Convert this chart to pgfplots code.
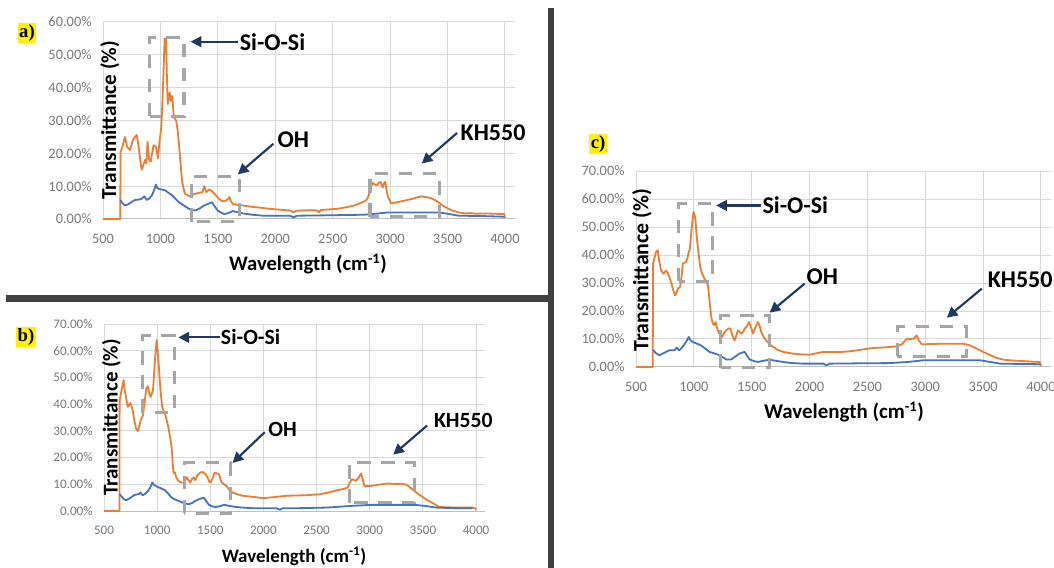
\documentclass[border=0pt]{standalone}
\usepackage{pgfplots}
\pgfplotsset{compat=1.18}
\usepackage{fontspec}
\setmainfont{Carlito}
\newfontfamily\serifb{Liberation Serif}
\usetikzlibrary{arrows.meta}
\definecolor{orangeS}{HTML}{ED7D31}
\definecolor{blueS}{HTML}{4472C4}
\definecolor{gridgray}{HTML}{D9D9D9}
\definecolor{axgray}{HTML}{BFBFBF}
\definecolor{tickgray}{HTML}{7A7A7A}
\definecolor{boxgray}{HTML}{A6A6A6}
\definecolor{navy}{HTML}{1F3864}
\definecolor{sepgray}{HTML}{404040}
\pgfplotsset{
  panel/.style={
    scale only axis, clip=false,
    xmin=500, xmax=4085,
    xtick={500,1000,1500,2000,2500,3000,3500,4000},
    xticklabels={500,1000,1500,2000,2500,3000,3500,4000},
    grid=major, major grid style={draw=gridgray, line width=0.75pt},
    axis x line*=bottom, axis y line*=left,
    x axis line style={draw=axgray, line width=0.75pt},
    y axis line style={draw=none},
    major tick length=0pt,
    ticklabel style={text=tickgray},
    xticklabel style={yshift=-8pt},
    yticklabel style={xshift=-5pt},
  },
  orng/.style={draw=orangeS, line width=1.35pt, no markers, line join=round},
  blu/.style={draw=blueS, line width=1.35pt, no markers, line join=round},
}
\tikzset{
  bx/.style={draw=boxgray, line width=2.3pt, dash pattern=on 10pt off 8pt},
  arr/.style={draw=navy, line width=1.6pt, -{Triangle[length=8pt,width=8pt]}},
}
\begin{document}
\begin{tikzpicture}
\fill[white] (0,0) rectangle (790.5pt,426pt);
\useasboundingbox (0,0) rectangle (790.5pt,426pt);
% separators
\fill[sepgray] (4.5pt,199.5pt) rectangle (413.25pt,204.75pt);
\fill[sepgray] (411pt,0pt) rectangle (415.5pt,420pt);

% ---------------- panel a
\begin{axis}[panel, at={(77.25pt,261.75pt)}, anchor=south west,
  width=308.8pt, height=147.75pt,
  ymin=0, ymax=60, ytick={0,10,20,30,40,50,60},
  yticklabels={0.00\%,10.00\%,20.00\%,30.00\%,40.00\%,50.00\%,60.00\%},
  ticklabel style={font=\fontsize{10.8}{12}\selectfont}]
\addplot[orng] coordinates {(500,0) (650,0) (653,20.5) (665,21.5) (691,25) (710,22) (735,21) (760,24) (779,25) (794,25.6) (810,22) (832,16) (838,15) (852,16.5) (867,18) (878,17) (888,23.5) (902,18) (915,17.5) (928,20) (940,22.5) (961,22) (979,18.5) (990,23) (1008,28) (1020,38) (1030,48) (1037,55) (1045,54) (1049,55) (1056,44) (1064,35) (1072,37) (1081,38.5) (1090,36) (1102,37.5) (1117,31) (1137,30) (1150,27) (1161,23) (1175,17) (1190,11) (1213,7.7) (1240,7.2) (1263,6.7) (1285,7.5) (1307,7.7) (1340,8) (1366,8.2) (1381,10) (1401,8.2) (1425,9) (1448,8.5) (1465,7.8) (1484,7.2) (1505,6.3) (1528,5.6) (1550,5.4) (1572,5.6) (1590,6.2) (1601,6.7) (1612,5.5) (1630,4.6) (1670,4.3) (1718,4.1) (1800,3.7) (1880,3.4) (1953,3.1) (2050,2.8) (2129,2.6) (2159,2.0) (2180,2.5) (2247,2.6) (2300,2.7) (2364,2.6) (2379,2.0) (2395,2.7) (2460,2.9) (2541,3.1) (2620,3.6) (2687,4.1) (2740,4.8) (2790,5.6) (2805,6.5) (2819,7.7) (2835,10) (2849,11) (2865,10.5) (2887,10.3) (2900,11) (2917,11.3) (2927,10.2) (2937,9.7) (2948,11) (2958,11.3) (2970,8.5) (2981,6.7) (3010,4.8) (3060,5.1) (3128,5.6) (3200,6.2) (3250,6.7) (3275,6.9) (3300,6.7) (3340,6.5) (3363,6.2) (3400,5.6) (3422,5.1) (3470,3.8) (3539,2.6) (3600,2.0) (3656,1.7) (3700,1.8) (3750,1.6) (3832,1.7) (3900,1.6) (3994,1.5) (4000,0.3)};
\addplot[blu] coordinates {(650,5.8) (670,4.8) (691,4.1) (720,4.5) (750,5.2) (779,5.8) (810,5.9) (838,6.2) (850,6.6) (861,6.9) (872,6.3) (882,5.8) (900,6.2) (926,7.2) (945,8.8) (961,10.5) (972,9.5) (984,9.2) (1010,9) (1043,8.7) (1070,8) (1102,7.2) (1130,6.2) (1161,5.1) (1200,4.2) (1249,3.1) (1280,2.7) (1307,2.6) (1340,3.2) (1381,4.1) (1420,4.7) (1448,5.1) (1470,4) (1498,2.6) (1530,1.9) (1557,1.5) (1590,1.8) (1630,2.4) (1670,2.1) (1718,1.7) (1800,1.3) (1894,1.0) (2000,1.0) (2129,1.0) (2159,0.5) (2188,1.0) (2400,1.1) (2600,1.2) (2775,1.3) (2900,1.7) (2981,2.0) (3200,2.0) (3422,2.0) (3500,1.6) (3598,1.0) (3800,0.9) (3994,0.7)};
\draw[bx] (axis cs:905,31.3) rectangle (axis cs:1205,55.4);
\draw[bx] (axis cs:1269,-0.8) rectangle (axis cs:1689,13);
\draw[bx] (axis cs:2825,0.7) rectangle (axis cs:3430,13.8);
\draw[arr] (axis cs:1674,54) -- (axis cs:1263,54);
\draw[arr] (axis cs:1983,22.9) -- (axis cs:1674,13.6);
\draw[arr] (axis cs:3583,26.2) -- (axis cs:3275,16.9);
\node[anchor=west, inner sep=0pt, font=\bfseries\fontsize{18}{20}\selectfont] at (axis cs:1689,54) {Si-O-Si};
\node[anchor=west, inner sep=0pt, font=\bfseries\fontsize{18}{20}\selectfont] at (axis cs:2018,24.3) {OH};
\node[anchor=west, inner sep=0pt, font=\bfseries\fontsize{18}{20}\selectfont] at (axis cs:3612,26.2) {KH550};
\node[rotate=90, inner sep=0pt, font=\bfseries\fontsize{16}{18}\selectfont] at (axis cs:560,30) {Transmittance (\%)};
\node[inner sep=0pt, font=\bfseries\fontsize{15.5}{17}\selectfont] at (axis cs:2285,0) [yshift=-34pt] {Wavelength (cm\textsuperscript{-1})};
\end{axis}

% ---------------- panel b
\begin{axis}[panel, at={(78pt,42.75pt)}, anchor=south west,
  width=285.8pt, height=140.25pt,
  ymin=0, ymax=70, ytick={0,10,20,30,40,50,60,70},
  yticklabels={0.00\%,10.00\%,20.00\%,30.00\%,40.00\%,50.00\%,60.00\%,70.00\%},
  ticklabel style={font=\fontsize{9.8}{11}\selectfont}]
\addplot[orng] coordinates {(500,0) (645,0) (647,41.5) (665,45.2) (685,49) (695,45) (707,42.7) (723,39) (735,39.5) (748,40.5) (770,37.7) (785,34) (802,30.8) (818,29.9) (830,31.5) (844,33.9) (866,35.8) (880,40) (898,45.9) (914,46.7) (925,44) (939,42.7) (950,44) (961,45.2) (972,52) (984,59) (996,64) (1005,60) (1016,54) (1030,46) (1047,39) (1060,37.5) (1073,36.4) (1090,34) (1105,31.4) (1120,28) (1136,23.9) (1145,19) (1152,15) (1160,14.2) (1168,14.4) (1180,12.5) (1200,11.3) (1225,10.7) (1248,10.7) (1265,11.5) (1280,12.6) (1295,11.5) (1311,10.7) (1328,12) (1343,12.6) (1360,11.5) (1375,13.2) (1390,13.8) (1407,14.4) (1430,14.6) (1455,13.8) (1475,12.5) (1490,11) (1502,10.7) (1520,12) (1535,14) (1550,14.4) (1565,14) (1582,13.8) (1595,12) (1607,10.7) (1630,10) (1652,9.4) (1680,7.8) (1709,6.9) (1760,6.2) (1805,5.7) (1900,5.3) (1996,4.8) (2100,5.2) (2218,5.7) (2300,5.8) (2400,5.9) (2537,6.3) (2620,7) (2696,7.8) (2760,8.3) (2792,8.8) (2805,10) (2830,11.9) (2850,11.6) (2871,11.3) (2895,12.5) (2919,14.1) (2935,11.5) (2951,9.4) (2980,9.3) (3014,9.4) (3090,9.9) (3173,10.3) (3250,10.1) (3300,10.2) (3332,10) (3350,9.7) (3380,8.8) (3420,7.5) (3460,6.3) (3520,4.6) (3587,3.1) (3620,2.3) (3651,1.6) (3700,1.4) (3810,1.3) (3900,1.3) (3968,1.3) (3994,1.0) (4000,0.3)};
\addplot[blu] coordinates {(647,6.3) (670,5.2) (685,4.5) (707,4.0) (740,4.7) (786,6.0) (825,6.3) (844,6.9) (855,6.2) (866,5.9) (890,6.5) (914,7.5) (935,8.8) (955,10.7) (970,9.8) (993,9.2) (1030,8.6) (1073,7.8) (1100,6.7) (1136,5.0) (1175,4.2) (1216,3.5) (1255,2.9) (1296,2.5) (1330,3.0) (1359,3.8) (1400,4.5) (1439,5.0) (1460,3.8) (1487,2.3) (1520,1.7) (1550,1.5) (1590,1.8) (1630,2.3) (1680,1.9) (1741,1.5) (1830,1.2) (1932,1.0) (2050,1.0) (2123,1.0) (2155,0.5) (2180,1.0) (2218,1.0) (2400,1.1) (2600,1.3) (2823,1.9) (3014,2.3) (3200,2.3) (3428,2.3) (3520,1.9) (3619,1.3) (3750,1.1) (3968,1.0)};
\draw[bx] (axis cs:860,36.8) rectangle (axis cs:1162,65.6);
\draw[bx] (axis cs:1257,-0.9) rectangle (axis cs:1687,18);
\draw[bx] (axis cs:2807,3.1) rectangle (axis cs:3422,18);
\draw[arr] (axis cs:1588,65) -- (axis cs:1200,65);
\draw[arr] (axis cs:2012,29.5) -- (axis cs:1709,18);
\draw[arr] (axis cs:3540,32) -- (axis cs:3221,21.1);
\node[anchor=west, inner sep=0pt, font=\bfseries\fontsize{16.3}{18}\selectfont] at (axis cs:1598,65.1) {Si-O-Si};
\node[anchor=west, inner sep=0pt, font=\bfseries\fontsize{16.3}{18}\selectfont] at (axis cs:2044,30.4) {OH};
\node[anchor=west, inner sep=0pt, font=\bfseries\fontsize{16.3}{18}\selectfont] at (axis cs:3603,33.9) {KH550};
\node[rotate=90, inner sep=0pt, font=\bfseries\fontsize{15.8}{18}\selectfont] at (axis cs:570,35) {Transmittance (\%)};
\node[inner sep=0pt, font=\bfseries\fontsize{14.2}{16}\selectfont] at (axis cs:2288,0) [yshift=-34pt] {Wavelength (cm\textsuperscript{-1})};
\end{axis}

% ---------------- panel c
\begin{axis}[panel, at={(477pt,150.75pt)}, anchor=south west,
  width=311.1pt, height=147pt,
  ymin=0, ymax=70, ytick={0,10,20,30,40,50,60,70},
  yticklabels={0.00\%,10.00\%,20.00\%,30.00\%,40.00\%,50.00\%,60.00\%,70.00\%},
  ticklabel style={font=\fontsize{10.8}{12}\selectfont}]
\addplot[orng] coordinates {(500,0) (645,0) (647,36.9) (660,39) (673,41.1) (688,41.7) (700,38) (717,34.5) (737,33.3) (760,34.5) (775,33.5) (789,32.1) (805,30) (818,28) (838,25.6) (850,26.5) (861,28) (881,28.6) (893,32) (904,36.9) (920,37.3) (933,37.5) (945,39) (956,41.1) (965,42) (977,47.6) (987,52) (997,55.4) (1005,54.5) (1014,52.4) (1024,47) (1034,42.9) (1045,39) (1055,35.7) (1070,33.5) (1092,31.5) (1110,30.3) (1121,29.2) (1130,26) (1141,21.4) (1152,17.5) (1164,15.5) (1176,15.0) (1188,16.1) (1200,14) (1213,12.5) (1230,11.2) (1242,10.7) (1260,12) (1280,13.1) (1300,13.8) (1315,13.7) (1335,11) (1352,9.5) (1365,11) (1381,13.1) (1395,12.5) (1410,11.9) (1425,12.5) (1439,13.7) (1458,14.5) (1477,16.1) (1495,14) (1511,11.9) (1530,14) (1554,16.1) (1570,14.5) (1583,12.5) (1600,11) (1612,10.1) (1640,8.8) (1670,7.7) (1720,6.2) (1771,5.4) (1850,4.8) (1930,4.5) (2002,4.4) (2060,4.9) (2118,5.4) (2250,5.3) (2349,5.6) (2450,6.2) (2551,6.8) (2650,7.0) (2753,7.4) (2800,8.2) (2840,10.1) (2870,10.0) (2898,10.1) (2926,11.3) (2945,9.5) (2970,8.1) (3050,8.2) (3129,8.3) (3250,8.3) (3331,8.3) (3380,7.8) (3418,7.1) (3480,5.8) (3562,4.2) (3620,3.2) (3677,2.6) (3760,2.3) (3851,2.1) (3930,1.9) (3989,1.8) (4000,0.3)};
\addplot[blu] coordinates {(647,6.2) (670,5.0) (702,4.2) (740,5.0) (789,6.0) (832,6.0) (852,6.9) (864,6.3) (875,6.0) (895,6.8) (919,8.1) (940,9.5) (956,10.7) (972,9.5) (991,8.9) (1030,8.3) (1063,7.7) (1100,6.5) (1135,5.4) (1180,4.8) (1222,4.2) (1250,3.5) (1280,2.7) (1323,2.7) (1360,3.8) (1395,4.8) (1439,5.4) (1460,4.0) (1482,2.7) (1520,2.1) (1554,1.8) (1600,2.2) (1656,2.6) (1710,2.2) (1771,1.8) (1850,1.4) (1944,1.2) (2118,1.2) (2147,0.6) (2175,1.2) (2400,1.3) (2695,1.4) (2850,1.8) (2984,2.4) (3200,2.4) (3475,2.4) (3560,1.8) (3648,1.2) (3800,1.1) (3994,1.0)};
\draw[bx] (axis cs:870,30.7) rectangle (axis cs:1164,58.3);
\draw[bx] (axis cs:1231,-0.2) rectangle (axis cs:1655,18.5);
\draw[bx] (axis cs:2759,3.8) rectangle (axis cs:3354,14.3);
\draw[arr] (axis cs:1583,57.7) -- (axis cs:1193,57.7);
\draw[arr] (axis cs:1958,29.8) -- (axis cs:1655,19.4);
\draw[arr] (axis cs:3489,28) -- (axis cs:3186,17.6);
\node[anchor=west, inner sep=0pt, font=\bfseries\fontsize{18}{20}\selectfont] at (axis cs:1592,57.7) {Si-O-Si};
\node[anchor=west, inner sep=0pt, font=\bfseries\fontsize{18}{20}\selectfont] at (axis cs:1973,32.4) {OH};
\node[anchor=west, inner sep=0pt, font=\bfseries\fontsize{18}{20}\selectfont] at (axis cs:3538,31.2) {KH550};
\node[rotate=90, inner sep=0pt, font=\bfseries\fontsize{16.4}{18}\selectfont] at (axis cs:552,34.6) {Transmittance (\%)};
\node[inner sep=0pt, font=\bfseries\fontsize{15.7}{17}\selectfont] at (axis cs:2298,0) [yshift=-33.5pt] {Wavelength (cm\textsuperscript{-1})};
\end{axis}

% panel labels
\node[fill=yellow, inner sep=1.2pt, font=\serifb\bfseries\fontsize{14}{15}\selectfont] at (20.25pt,401.25pt) {a)};
\node[fill=yellow, inner sep=1.2pt, font=\serifb\bfseries\fontsize{14}{15}\selectfont] at (19.5pt,173.25pt) {b)};
\node[fill=yellow, inner sep=1.2pt, font=\serifb\bfseries\fontsize{14}{15}\selectfont] at (448.5pt,318.3pt) {c)};
\end{tikzpicture}
\end{document}
